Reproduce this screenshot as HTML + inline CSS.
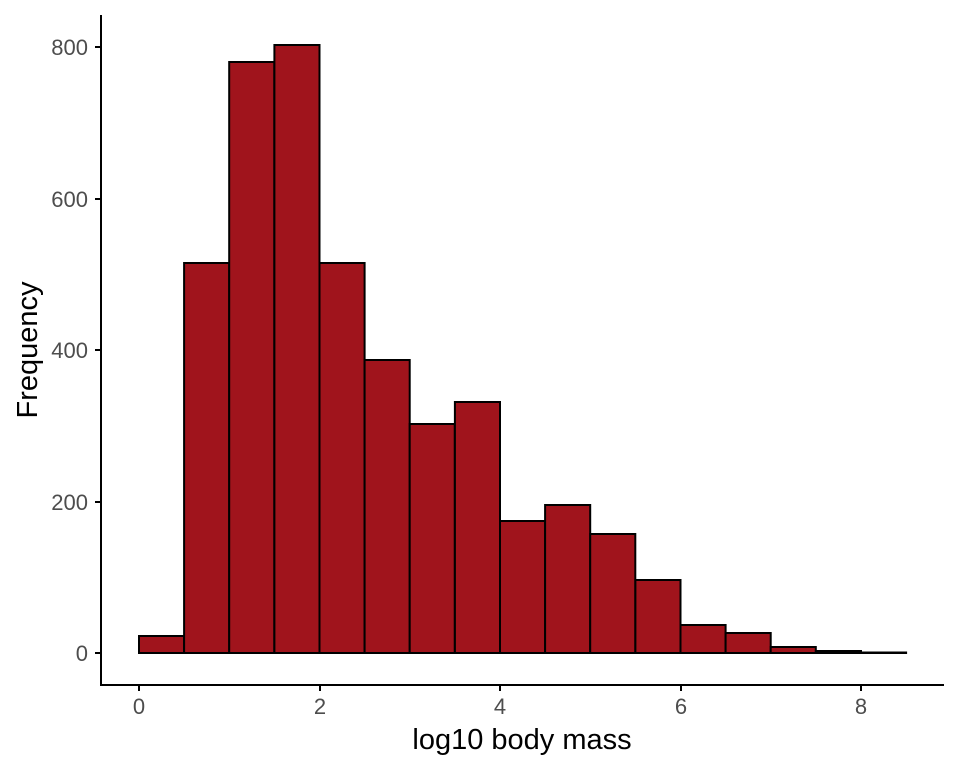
<!DOCTYPE html>
<html><head><meta charset="utf-8"><style>body{margin:0;background:#fff}</style></head><body>
<svg width="960" height="768" xmlns="http://www.w3.org/2000/svg" font-family="Liberation Sans, sans-serif">
<rect width="960" height="768" fill="#fff"/>
<g fill="#A0141C" stroke="#000" stroke-width="2">
<rect x="139" y="636" width="45.1" height="17"/>
<rect x="184.1" y="263" width="45.1" height="390"/>
<rect x="229.2" y="62" width="45.1" height="591"/>
<rect x="274.4" y="45" width="45.1" height="608"/>
<rect x="319.5" y="263" width="45.1" height="390"/>
<rect x="364.6" y="360" width="45.1" height="293"/>
<rect x="409.7" y="424" width="45.1" height="229"/>
<rect x="454.9" y="402" width="45.1" height="251"/>
<rect x="500" y="521" width="45.1" height="132"/>
<rect x="545.1" y="505" width="45.1" height="148"/>
<rect x="590.2" y="534" width="45.1" height="119"/>
<rect x="635.4" y="580" width="45.1" height="73"/>
<rect x="680.5" y="625" width="45.1" height="28"/>
<rect x="725.6" y="633" width="45.1" height="20"/>
<rect x="770.7" y="647" width="45.1" height="6"/>
<rect x="815.9" y="651" width="45.1" height="2"/>
<rect x="861" y="652.5" width="45.1" height="0.5"/>
</g>
<g stroke="#000" stroke-width="2" fill="none">
<path d="M101 15V685H944"/>
<path d="M95 653H101M95 502H101M95 350H101M95 199H101M95 47H101"/>
<path d="M139 685V691M320 685V691M500 685V691M681 685V691M861 685V691"/>
</g>
<g fill="#4d4d4d" font-size="22" text-anchor="end">
<text x="88" y="661">0</text><text x="88" y="510">200</text><text x="88" y="358">400</text><text x="88" y="207">600</text><text x="88" y="55">800</text>
</g>
<g fill="#4d4d4d" font-size="22" text-anchor="middle">
<text x="139" y="714">0</text><text x="320" y="714">2</text><text x="500" y="714">4</text><text x="681" y="714">6</text><text x="861" y="714">8</text>
</g>
<text x="522" y="749" font-size="29" text-anchor="middle">log10 body mass</text>
<text transform="translate(37 350) rotate(-90)" font-size="29" text-anchor="middle">Frequency</text>
</svg>
</body></html>
